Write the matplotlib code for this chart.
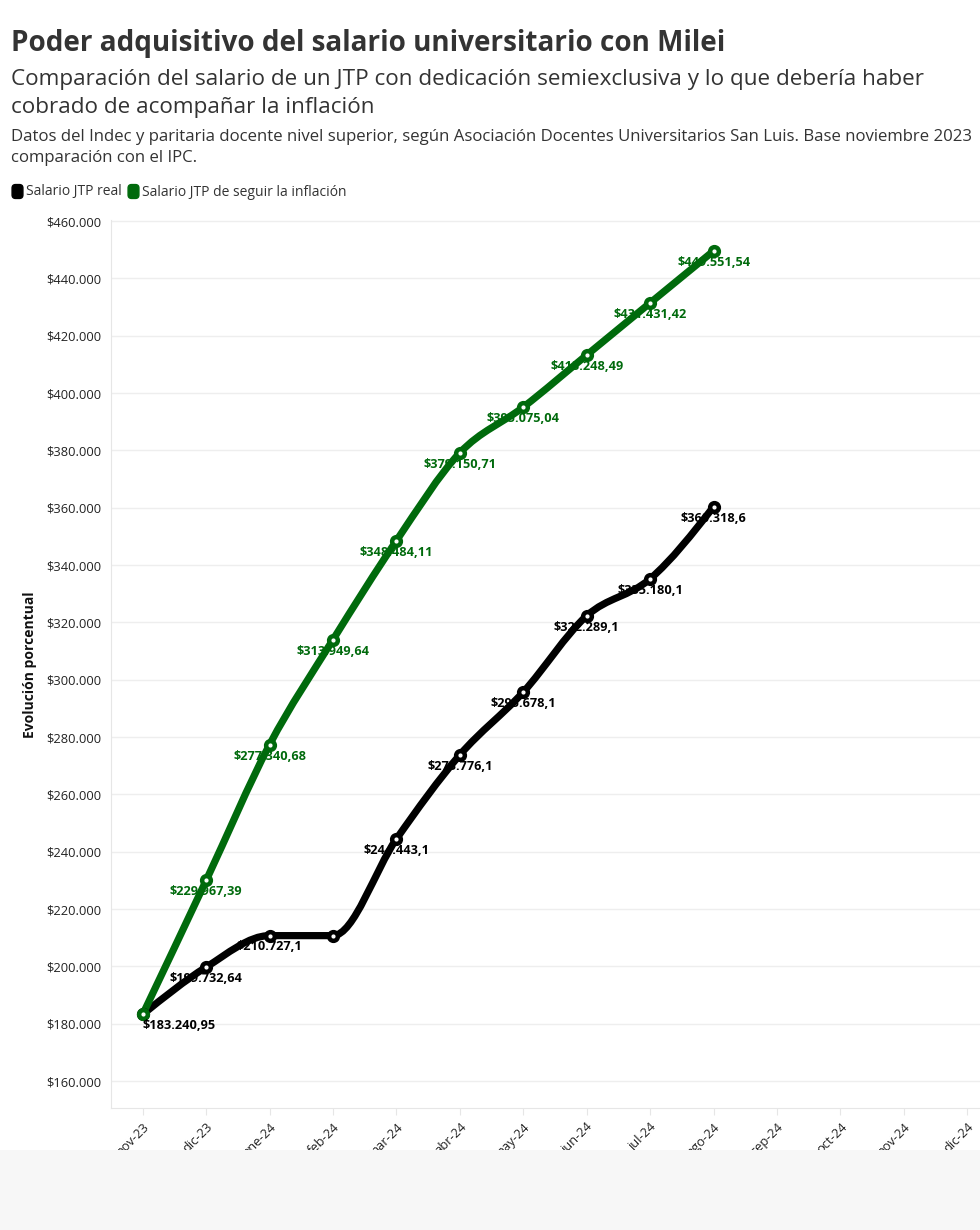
import matplotlib
matplotlib.use("Agg")
import matplotlib.pyplot as plt
from matplotlib.path import Path
from matplotlib.patches import PathPatch, Rectangle, FancyBboxPatch
from matplotlib.lines import Line2D
from matplotlib.ticker import FuncFormatter
import numpy as np

plt.rcParams['font.family'] = ['Open Sans', 'Noto Sans', 'DejaVu Sans']

# data
months = ["nov-23", "dic-23", "ene-24", "feb-24", "mar-24", "abr-24", "may-24",
          "jun-24", "jul-24", "ago-24", "sep-24", "oct-24", "nov-24", "dic-24"]
salario_real = [183240.95, 199732.64, 210727.1, 210727.1, 244443.1, 273776.1,
                295678.1, 322289.1, 335180.1, 360318.6]
salario_inflacion = [183240.95, 229967.39, 277340.68, 313949.64, 348484.11,
                     379150.71, 395075.04, 413248.49, 431431.42, 449551.54]
# which points carry a text label
show_real = [True, True, True, False, True, True, True, True, True, True]
show_infl = [False, True, True, True, True, True, True, True, True, True]

BLACK = "#000000"
GREEN = "#006a0c"


def fmt_money(v):
    s = "{:,.2f}".format(v)
    ent, dec = s.split(".")
    ent = ent.replace(",", ".")
    dec = dec.rstrip("0")
    return "$" + ent + ("," + dec if dec else "")


def monotone_path(xs, ys):
    # monotone-x curve (same idea as d3.curveMonotoneX), built from bezier segments
    xs = np.asarray(xs, float)
    ys = np.asarray(ys, float)
    n = len(xs)
    h = np.diff(xs)
    s = np.diff(ys) / h
    t = np.zeros(n)
    for i in range(1, n - 1):
        p = (s[i - 1] * h[i] + s[i] * h[i - 1]) / (h[i - 1] + h[i])
        t[i] = (np.sign(s[i - 1]) + np.sign(s[i])) * min(abs(s[i - 1]), abs(s[i]), 0.5 * abs(p))
    t[0] = (3 * s[0] - t[1]) / 2
    t[-1] = (3 * s[-1] - t[-2]) / 2
    verts = [(xs[0], ys[0])]
    codes = [Path.MOVETO]
    for i in range(n - 1):
        dx = h[i] / 3
        verts += [(xs[i] + dx, ys[i] + dx * t[i]),
                  (xs[i + 1] - dx, ys[i + 1] - dx * t[i + 1]),
                  (xs[i + 1], ys[i + 1])]
        codes += [Path.CURVE4] * 3
    return Path(verts, codes)


fig = plt.figure(figsize=(9.8, 12.3), dpi=100)
ax = fig.add_axes([111 / 980, 1 - 1108 / 1230, 888 / 980, 888 / 1230])
ax.set_xlim(-0.5, 13.5)
ax.set_ylim(150600, 460350)

x = np.arange(len(months))
series = [(salario_real, BLACK, show_real), (salario_inflacion, GREEN, show_infl)]
for vals, col, show in series:
    xs = x[:len(vals)]
    ax.add_patch(PathPatch(monotone_path(xs, vals), fill=False, edgecolor=col,
                           lw=5.2, capstyle="round", joinstyle="round", zorder=3))
    ax.plot(xs, vals, ls="none", marker="o", ms=8.5, color=col, zorder=4)
    ax.plot(xs, vals, ls="none", marker="o", ms=2, color="white", zorder=4)
    for i, v in enumerate(vals):
        if not show[i]:
            continue
        ha = "left" if i == 0 else "center"
        ax.annotate(fmt_money(v), (xs[i], v), xytext=(0, -3.5), textcoords="offset points",
                    ha=ha, va="top", fontsize=9.2, fontweight="bold", color=col, zorder=5)

ax.set_yticks(np.arange(160000, 460001, 20000))
ax.yaxis.set_major_formatter(FuncFormatter(lambda v, p: "$" + "{:,.0f}".format(v).replace(",", ".")))
ax.set_xticks(x)
ax.set_xticklabels(months, rotation=45, ha="right", rotation_mode="anchor")
ax.tick_params(axis="y", length=0, labelsize=9.3, pad=7, labelcolor="#222222")
ax.tick_params(axis="x", length=5, color="#e6e6e6", labelsize=9.3, pad=4, labelcolor="#222222")
ax.grid(axis="y", color="#eeeeee", lw=1)
ax.set_axisbelow(True)
for s in ["top", "right"]:
    ax.spines[s].set_visible(False)
for s in ["left", "bottom"]:
    ax.spines[s].set_color("#e6e6e6")

fig.text(30 / 980, 1 - 665 / 1230, "Evolución porcentual", rotation=90, ha="center",
         va="center", fontsize=10, fontweight="bold", color="#111111")

# titles
fig.text(11 / 980, 1 - 44 / 1230, "Poder adquisitivo del salario universitario con Milei",
         fontsize=20.1, fontweight="bold", color="#333333", va="center")
fig.text(11 / 980, 1 - 80 / 1230,
         "Comparación del salario de un JTP con dedicación semiexclusiva y lo que debería haber",
         fontsize=16.2, color="#333333", va="center")
fig.text(11 / 980, 1 - 107 / 1230, "cobrado de acompañar la inflación",
         fontsize=16.2, color="#333333", va="center")
fig.text(11 / 980, 1 - 137 / 1230,
         "Datos del Indec y paritaria docente nivel superior, según Asociación Docentes "
         "Universitarios San Luis. Base noviembre 2023",
         fontsize=12.1, color="#333333", va="center")
fig.text(11 / 980, 1 - 158 / 1230, "comparación con el IPC.",
         fontsize=12.1, color="#333333", va="center")

# legend with rounded swatches
swatch = FancyBboxPatch((-0.39, -0.5), 0.78, 1.0,
                        boxstyle="round,pad=0,rounding_size=0.25").get_path()
handles = [Line2D([], [], ls="none", marker=swatch, ms=10, color=BLACK),
           Line2D([], [], ls="none", marker=swatch, ms=10, color=GREEN)]
fig.legend(handles, ["Salario JTP real", "Salario JTP de seguir la inflación"],
           loc="center left", bbox_to_anchor=(0 / 980, 1 - 192 / 1230), ncol=2,
           frameon=False, fontsize=10, handlelength=0.7, handletextpad=0.3,
           columnspacing=0.45, labelcolor="#333333")

# grey footer band
fig.add_artist(Rectangle((0, 0), 1, 80 / 1230, transform=fig.transFigure,
                         facecolor="#f7f7f7", edgecolor="none", zorder=10))

fig.savefig("out.png", dpi=100)
